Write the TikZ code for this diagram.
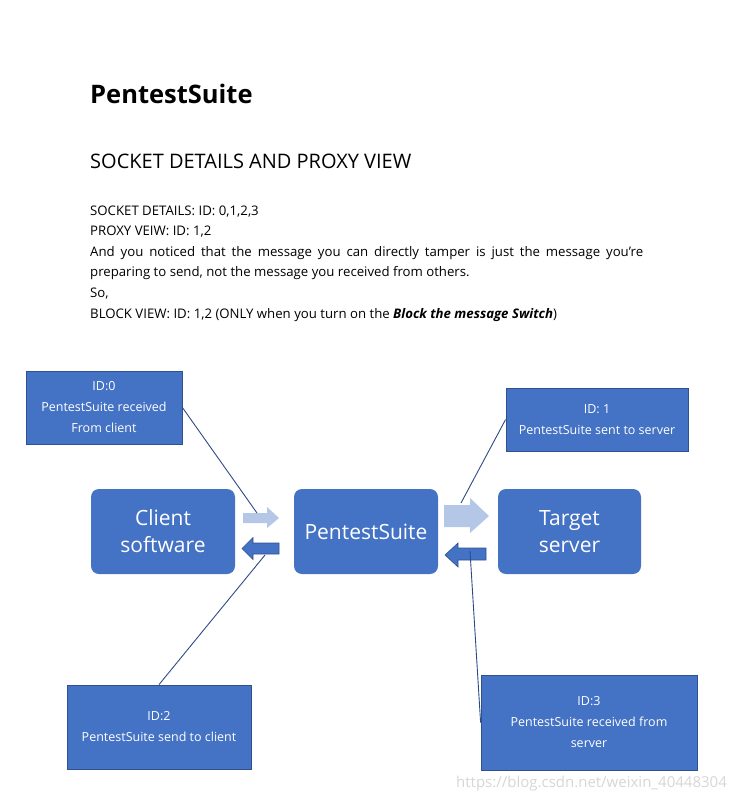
\documentclass[tikz,border=0pt]{standalone}
\usepackage{fontspec}
\setmainfont{Open Sans}
\definecolor{boxblue}{HTML}{4472C4}
\definecolor{edgeblue}{HTML}{2F528F}
\definecolor{lightarrow}{HTML}{B4C7E7}
\definecolor{calloutcol}{HTML}{2E4A86}
\begin{document}
\begin{tikzpicture}[x=1pt,y=-1pt,
  idbox/.style={draw=edgeblue, fill=boxblue, line width=0.8pt, text=white, align=center,
    font=\fontsize{12.5}{21}\selectfont, inner sep=0pt},
  mainbox/.style={fill=boxblue, rounded corners=8pt, text=white, align=center,
    font=\fontsize{21}{27}\selectfont, inner sep=0pt, minimum height=85pt},
  callout/.style={draw=calloutcol, line width=0.9pt},
  bodyline/.style={anchor=base west, inner sep=0pt, font=\fontsize{13.2}{16}\selectfont},
  lightarr/.style={fill=lightarrow},
  darkarr/.style={fill=boxblue, draw=edgeblue, line width=0.6pt}]
\useasboundingbox (0,0) rectangle (735,801);

% header texts
\node[anchor=base west, inner sep=0pt, font=\fontsize{25.5}{30}\selectfont\bfseries] (title) at (90,103) {PentestSuite};
\node[anchor=base west, inner sep=0pt, font=\fontsize{20}{24}\selectfont] (sect) at (90,168) {SOCKET DETAILS AND PROXY VIEW};
\node[bodyline] (l1) at (90,215) {SOCKET DETAILS: ID: 0,1,2,3};
\node[bodyline] (l2) at (90,235.7) {PROXY VEIW: ID: 1,2};
\node[bodyline] (l3) at (90,256.7) {\makebox[553pt][s]{And you noticed that the message you can directly tamper is just the message you're}};
\node[bodyline] (l4) at (90,276.9) {preparing to send, not the message you received from others.};
\node[bodyline] (l5) at (90,297.5) {So,};
\node[bodyline] (l6) at (90,318.2) {BLOCK VIEW: ID: 1,2 (ONLY when you turn on the \textbf{\textit{Block the message Switch}})};

% main boxes
\node[mainbox, minimum width=144pt] (client) at (163,531.5) {Client\\software};
\node[mainbox, minimum width=144pt] (pentest) at (366,531.5) {PentestSuite};
\node[mainbox, minimum width=143pt] (target) at (569.5,531.5) {Target\\server};

% ID boxes
\node[idbox, minimum width=156pt, minimum height=73pt] (id0) at (104,407.5) {ID:0\\PentestSuite received\\From client};
\node[idbox, minimum width=182pt, minimum height=63pt] (id1) at (597,419.5) {ID: 1\\PentestSuite sent to server};
\node[idbox, minimum width=184pt, minimum height=84pt] (id2) at (159,727) {ID:2\\PentestSuite send to client};
\node[idbox, minimum width=216pt, minimum height=95pt] (id3) at (589,722.5) {ID:3\\PentestSuite received from\\server};

% block arrows
\fill[lightarr] (243,513) -- (267,513) -- (267,507) -- (279,518) -- (267,528) -- (267,523) -- (243,523) -- cycle;
\filldraw[darkarr] (279,543) -- (253,543) -- (253,537.5) -- (242,548.5) -- (253,559.5) -- (253,554) -- (279,554) -- cycle;
\fill[lightarr] (444,505) -- (470,505) -- (470,498) -- (489,516) -- (470,533) -- (470,527) -- (444,527) -- cycle;
\filldraw[darkarr] (486,548) -- (458,548) -- (458,543) -- (445,555) -- (458,567) -- (458,560) -- (486,560) -- cycle;

% callout ends
\coordinate (c0) at (257,513);
\coordinate (c1) at (461,503);
\coordinate (c2) at (265,555);
\coordinate (c3) at (470,551);
\draw[callout] (id0.east) -- (c0);
\draw[callout] (id1.west) -- (c1);
\draw[callout] (id2.north) -- (c2);
\draw[callout] (id3.west) -- (c3);

% watermark
\node[anchor=base east, inner sep=0pt, text=black!16, font=\fontsize{15}{17}\selectfont] (wm) at (727,787) {https://blog.csdn.net/weixin\_40448304};
\end{tikzpicture}
\end{document}
